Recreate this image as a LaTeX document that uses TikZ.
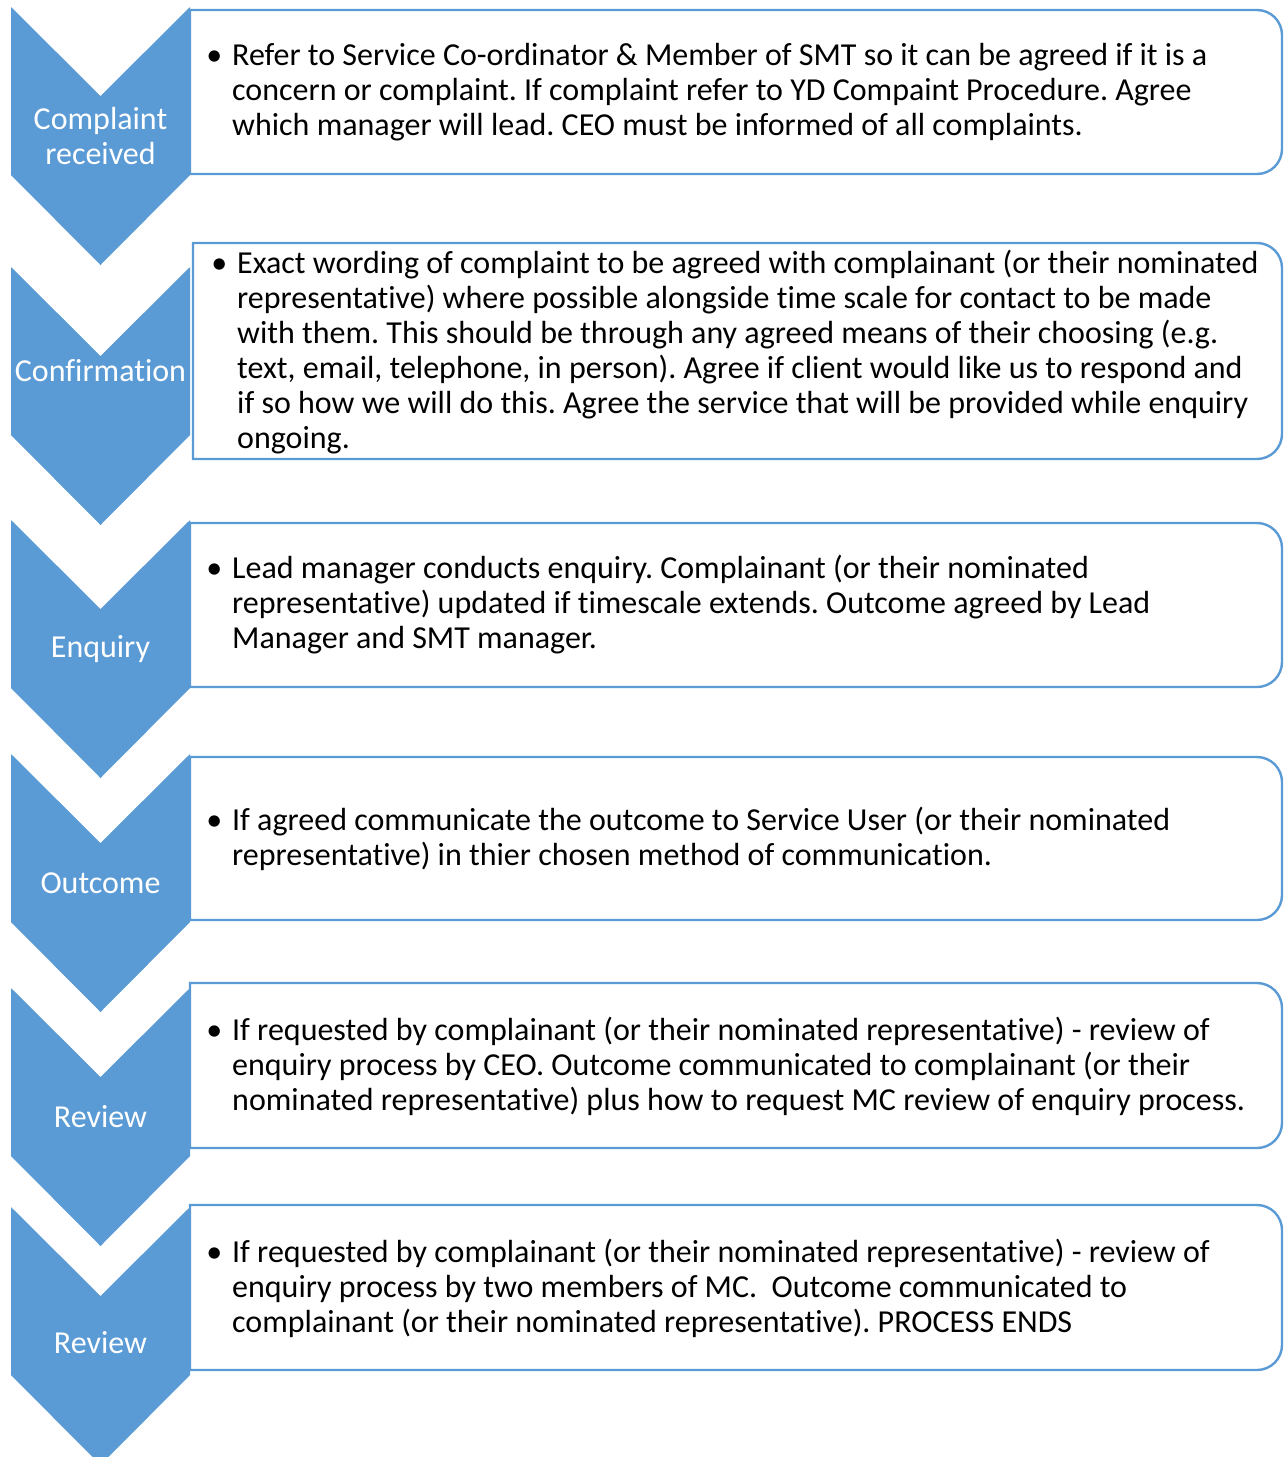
\documentclass[tikz,border=0pt]{standalone}
\usepackage{fontspec}
\setmainfont{Carlito}[Ligatures=NoCommon]
\definecolor{stepblue}{HTML}{5B9BD5}
\begin{document}
\frenchspacing
\begin{tikzpicture}[x=1pt,y=-1pt,
  chevron/.style={fill=stepblue,draw=none},
  stepbox/.style={draw=stepblue,line width=2.4pt,fill=white},
  steplabel/.style={text=white,font=\fontsize{32}{35}\selectfont,align=center,inner sep=0pt},
  bodytext/.style={text=black,font=\fontsize{32}{35}\selectfont,align=left,inner sep=0pt,anchor=west},
]
\useasboundingbox (0,0) rectangle (1287,1457);
\clip (0,0) rectangle (1287,1457);

% chevron: top y, notch depth 89, body bottom +168, tip +258
\newcommand{\chevstep}[2]{%
  \path[chevron] (11,#1) -- (100.5,#1+89) -- (190,#1) -- (190,#1+168)
     -- (100.5,#1+258) -- (11,#1+168) -- cycle;
  \coordinate (#2) at (100.5,#1+128);
}
% box with square left corners and rounded right corners (y axis points down)
\newcommand{\stepframe}[4]{%
  \draw[stepbox] (#1,#2) -- (1257,#2) arc[start angle=-90,end angle=0,radius=25]
     -- (1282,#3-25) arc[start angle=0,end angle=90,radius=25] -- (#1,#3) -- cycle;
  \coordinate (#4) at (#1,{(#2+#3)/2});
}

\chevstep{7}{c1}
\chevstep{267}{c2}
\chevstep{520}{c3}
\chevstep{754}{c4}
\chevstep{988}{c5}
\chevstep{1207}{c6}

\node[steplabel] (l1) at (100.5,136) {Complaint\\received};
\node[steplabel] (l2) at (100.5,371) {Confirmation};
\node[steplabel] (l3) at (100.5,649) {Enquiry};
\node[steplabel] (l4) at (100.5,883) {Outcome};
\node[steplabel] (l5) at (100.5,1117) {Review};
\node[steplabel] (l6) at (100.5,1343) {Review};

\stepframe{190}{10}{174}{b1}
\stepframe{193}{243}{459}{b2}
\stepframe{190}{523}{687}{b3}
\stepframe{190}{757}{920}{b4}
\stepframe{190}{983}{1148}{b5}
\stepframe{190}{1205}{1370}{b6}

\newcommand{\stepbullet}{\llap{•\hspace{10pt}}}

\node[bodytext] (t1) at (232,92) {\stepbullet Refer to Service Co-ordinator \& Member of SMT so it can be agreed if it is a\\
concern or complaint. If complaint refer to YD Compaint Procedure. Agree\\
which manager will lead. CEO must be informed of all complaints.};

\node[bodytext] (t2) at (237,352) {\stepbullet Exact wording of complaint to be agreed with complainant (or their nominated\\
representative) where possible alongside time scale for contact to be made\\
with them. This should be through any agreed means of their choosing (e.g.\\
text, email, telephone, in person). Agree if client would like us to respond and\\
if so how we will do this. Agree the service that will be provided while enquiry\\
ongoing.};

\node[bodytext] (t3) at (232,605) {\stepbullet Lead manager conducts enquiry. Complainant (or their nominated\\
representative) updated if timescale extends. Outcome agreed by Lead\\
Manager and SMT manager.};

\node[bodytext] (t4) at (232,839) {\stepbullet If agreed communicate the outcome to Service User (or their nominated\\
representative) in thier chosen method of communication.};

\node[bodytext] (t5) at (232,1066) {\stepbullet If requested by complainant (or their nominated representative) - review of\\
enquiry process by CEO. Outcome communicated to complainant (or their\\
nominated representative) plus how to request MC review of enquiry process.};

\node[bodytext] (t6) at (232,1288) {\stepbullet If requested by complainant (or their nominated representative) - review of\\
enquiry process by two members of MC.\ \ Outcome communicated to\\
complainant (or their nominated representative). PROCESS ENDS};
\end{tikzpicture}
\end{document}
